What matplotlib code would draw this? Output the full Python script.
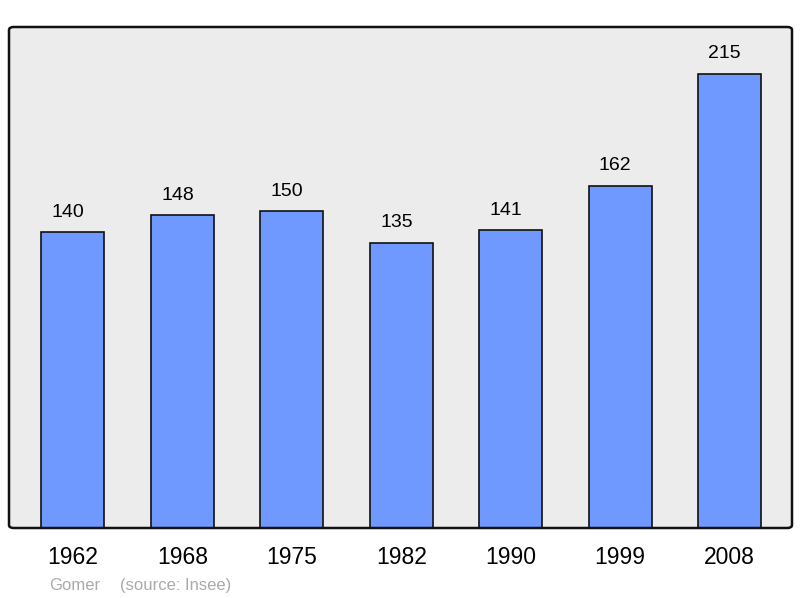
import matplotlib.pyplot as plt
from matplotlib.patches import FancyBboxPatch

plt.rcParams["font.family"] = ["Liberation Sans", "DejaVu Sans"]

years = ["1962", "1968", "1975", "1982", "1990", "1999", "2008"]
population = [140, 148, 150, 135, 141, 162, 215]

fig = plt.figure(figsize=(8, 5.98), dpi=100)
ax = fig.add_axes([9 / 800, 70 / 598, 783 / 800, 501 / 598])
ax.set_facecolor("#ececec")

x = range(len(years))
bars = ax.bar(x, population, width=0.575, color="#7099ff",
              edgecolor="#111111", linewidth=1.2, zorder=2)

# value labels sit a little left of the bar centre, as in the original
for b, v in zip(bars, population):
    ax.annotate(str(v), (b.get_x() + b.get_width() / 2, v),
                xytext=(-3.5, 11), textcoords="offset points",
                ha="center", va="baseline", fontsize=14)

ax.set_xlim(-0.584, 6.57)
ax.set_ylim(0, 237)
ax.set_yticks([])
ax.set_xticks(list(x))
ax.set_xticklabels(years, fontsize=16.5)
ax.tick_params(axis="x", length=0, pad=13)

for s in ax.spines.values():
    s.set_visible(False)
frame = FancyBboxPatch((0, 0), 1, 1, boxstyle="round,pad=0,rounding_size=0.006",
                       transform=ax.transAxes, facecolor="none",
                       edgecolor="#111111", linewidth=1.8, clip_on=False, zorder=3)
ax.add_patch(frame)

fig.text(49 / 800, 1 - 590 / 598, "Gomer", color="#aaaaaa", fontsize=12, va="baseline")
fig.text(120 / 800, 1 - 590 / 598, "(source: Insee)", color="#aaaaaa", fontsize=12, va="baseline")

fig.savefig("out.png", dpi=100)
